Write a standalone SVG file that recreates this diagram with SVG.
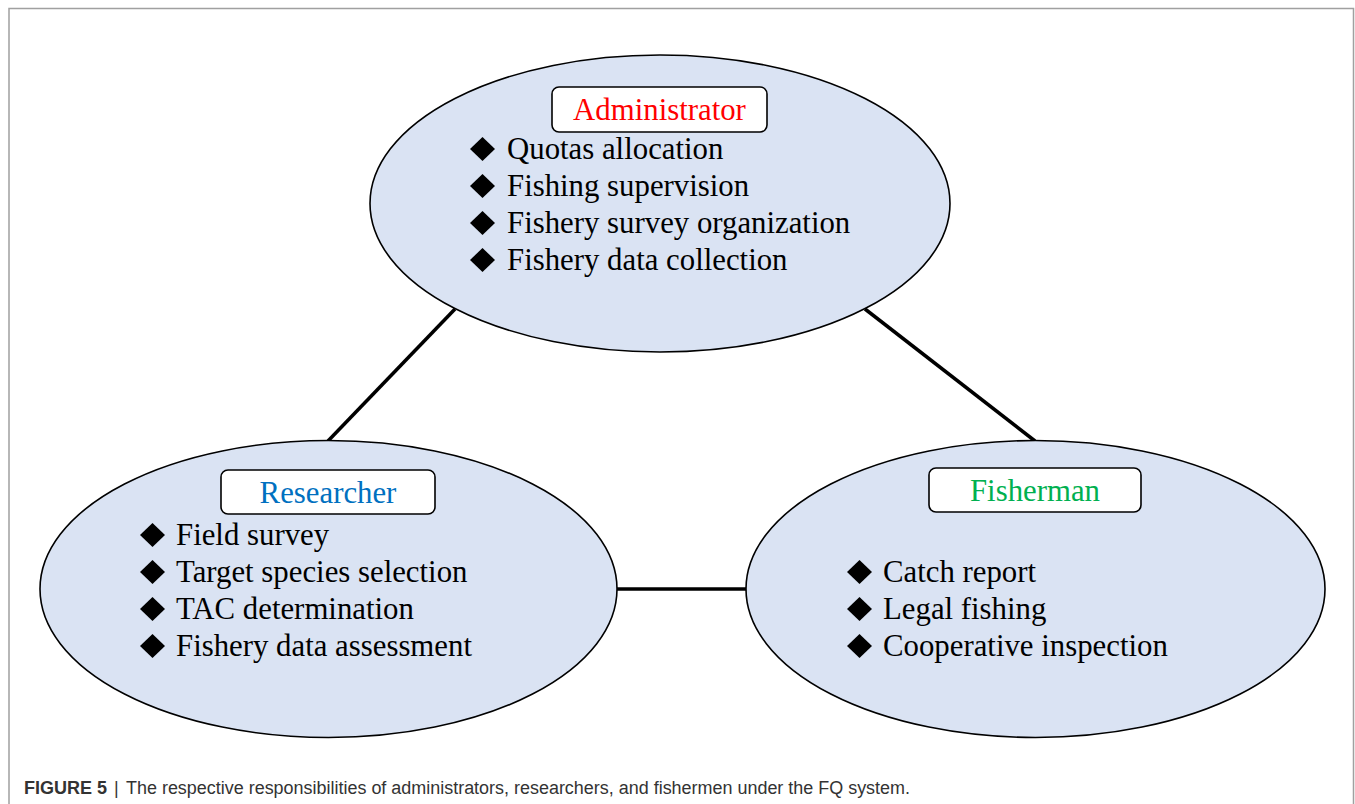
<svg xmlns="http://www.w3.org/2000/svg" width="1355" height="804" viewBox="0 0 1355 804">
<style>
.frame{fill:none;stroke:#a0a0a0;stroke-width:1.5}
.ell{fill:#dae3f3;stroke:#000;stroke-width:1.6}
.lbl{fill:#fff;stroke:#000;stroke-width:1.6}
.t{font-family:"Liberation Serif","Times New Roman",serif;font-size:30.8px;fill:#000}
.h{font-family:"Liberation Serif","Times New Roman",serif;font-size:30.8px;text-anchor:middle}
.conn{stroke:#000;stroke-width:3.5;fill:none}
.cap{font-family:"Liberation Sans",Arial,sans-serif;font-size:18px;fill:#333}
</style>
<defs>
<polygon id="dia" points="0,-12 12.5,0 0,12 -12.5,0" fill="#000"/>
</defs>
<rect width="1355" height="804" fill="#fff"/>
<path class="frame" d="M9,810 V8.5 H1353.5 V810"/>
<g id="connectors">
<line class="conn" x1="455" y1="309" x2="328" y2="441"/>
<line class="conn" x1="865" y1="309" x2="1035" y2="441"/>
<line class="conn" x1="617" y1="589" x2="747" y2="589"/>
</g>
<g id="administrator">
<ellipse class="ell" cx="660" cy="203.5" rx="290" ry="148.5"/>
<rect class="lbl" x="552" y="87" width="215" height="45" rx="7"/>
<text class="h" x="659.5" y="120" fill="#ff0000">Administrator</text>
<use href="#dia" x="482.5" y="149"/>
<use href="#dia" x="482.5" y="186"/>
<use href="#dia" x="482.5" y="223"/>
<use href="#dia" x="482.5" y="260"/>
<text class="t" x="507" y="159">Quotas allocation</text>
<text class="t" x="507" y="196">Fishing supervision</text>
<text class="t" x="507" y="233">Fishery survey organization</text>
<text class="t" x="507" y="270">Fishery data collection</text>
</g>
<g id="researcher">
<ellipse class="ell" cx="328.5" cy="589" rx="288.5" ry="148.5"/>
<rect class="lbl" x="221" y="470" width="214" height="44" rx="7"/>
<text class="h" x="328" y="503" fill="#0070c0">Researcher</text>
<use href="#dia" x="152.5" y="535"/>
<use href="#dia" x="152.5" y="572"/>
<use href="#dia" x="152.5" y="609"/>
<use href="#dia" x="152.5" y="646"/>
<text class="t" x="176" y="545">Field survey</text>
<text class="t" x="176" y="582">Target species selection</text>
<text class="t" x="176" y="619">TAC determination</text>
<text class="t" x="176" y="656">Fishery data assessment</text>
</g>
<g id="fisherman">
<ellipse class="ell" cx="1035.5" cy="589" rx="289.5" ry="148.5"/>
<rect class="lbl" x="929" y="468" width="212" height="44" rx="7"/>
<text class="h" x="1035" y="501" fill="#00b050">Fisherman</text>
<use href="#dia" x="859.5" y="572"/>
<use href="#dia" x="859.5" y="609"/>
<use href="#dia" x="859.5" y="646"/>
<text class="t" x="883" y="582">Catch report</text>
<text class="t" x="883" y="619">Legal fishing</text>
<text class="t" x="883" y="656">Cooperative inspection</text>
</g>
<g id="caption">
<text class="cap" x="24" y="794" font-weight="bold" fill="#222">FIGURE 5</text>
<text class="cap" x="114" y="794" fill="#888">|</text>
<text class="cap" x="126" y="794" textLength="784" lengthAdjust="spacingAndGlyphs">The respective responsibilities of administrators, researchers, and fishermen under the FQ system.</text>
</g>
</svg>
